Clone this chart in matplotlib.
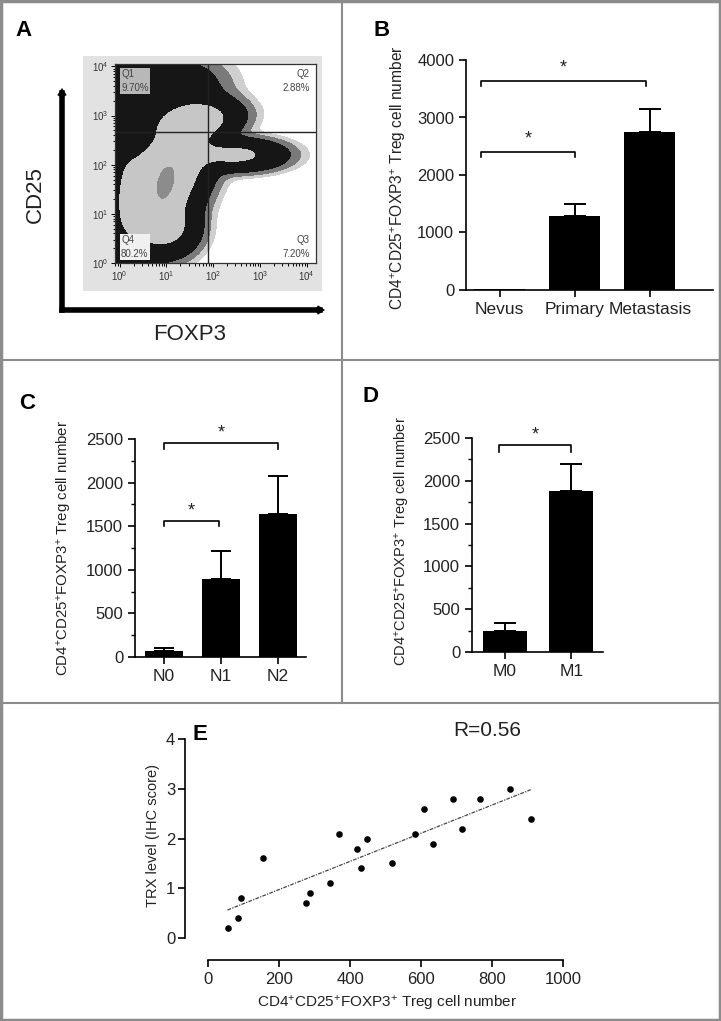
import numpy as np
import matplotlib
matplotlib.use("Agg")
import matplotlib.pyplot as plt
from matplotlib.lines import Line2D
from matplotlib.patches import Rectangle, FancyArrowPatch
from matplotlib.ticker import MultipleLocator, LogLocator, NullFormatter

plt.rcParams['font.family'] = ['Liberation Sans', 'DejaVu Sans']
plt.rcParams['mathtext.fontset'] = 'custom'
plt.rcParams['mathtext.rm'] = 'Liberation Sans'
plt.rcParams['mathtext.it'] = 'Liberation Sans:italic'
plt.rcParams['mathtext.bf'] = 'Liberation Sans:bold'

# ---- data ----
# panel B
b_groups = ["Nevus", "Primary", "Metastasis"]
b_means = [15, 1280, 2740]
b_errs = [0, 210, 410]

# panel C
c_groups = ["N0", "N1", "N2"]
c_means = [65, 895, 1645]
c_errs = [38, 320, 430]

# panel D
d_groups = ["M0", "M1"]
d_means = [240, 1875]
d_errs = [100, 325]

# panel E
e_treg = [54, 83, 91, 155, 274, 286, 343, 368, 420, 429, 446, 519,
          582, 608, 632, 689, 715, 765, 850, 909]
e_trx = [0.2, 0.4, 0.8, 1.6, 0.7, 0.9, 1.1, 2.1, 1.8, 1.4, 2.0, 1.5,
         2.1, 2.6, 1.9, 2.8, 2.2, 2.8, 3.0, 2.4]
e_r = 0.56

# panel A: flow populations (log10 centres, spreads, correlation, weight)
pop_x = [0.95, 1.0, 1.6, 2.5, 0.05, 1.05, 1.0]
pop_y = [1.7, 1.6, 2.9, 2.2, 2.4, 0.7, 3.7]
pop_sx = [0.55, 0.18, 0.5, 0.55, 0.3, 0.35, 0.6]
pop_sy = [0.75, 0.35, 0.22, 0.17, 1.1, 0.3, 0.3]
pop_rho = [0.55, 0.3, 0.2, 0.0, 0.0, 0.0, 0.0]
pop_w = [1.0, 0.5, 0.6, 0.45, 0.25, 0.4, 0.15]
quad_x = 76
quad_y = 470
quad_labels = [("Q1", "9.70%"), ("Q2", "2.88%"), ("Q3", "7.20%"), ("Q4", "80.2%")]

W, H = 721, 1021
fig = plt.figure(figsize=(W / 100, H / 100), dpi=100)
ylab = r'CD4$^{+}$CD25$^{+}$FOXP3$^{+}$ Treg cell number'
txtc = '#222222'


def px_axes(l, t, r, b):
    return fig.add_axes([l / W, 1 - b / H, (r - l) / W, (b - t) / H])


def fx(x):
    return x / W


def fy(y):
    return 1 - y / H


def style_bar_axes(ax, names, size):
    for s in ['top', 'right']:
        ax.spines[s].set_visible(False)
    for s in ['left', 'bottom']:
        ax.spines[s].set_linewidth(1.2)
    ax.set_xticks(range(len(names)))
    ax.set_xticklabels(names, fontsize=size, color=txtc)
    ax.tick_params(axis='both', direction='out', length=5, width=1.2)
    ax.tick_params(axis='y', labelsize=12, labelcolor=txtc)
    ax.tick_params(axis='y', which='minor', length=3, width=1.0)


def bars(ax, means, errs, width, cap):
    x = np.arange(len(means))
    ax.bar(x, means, width=width, color='black', zorder=2)
    for xi, m, e in zip(x, means, errs):
        if e > 0:
            ax.errorbar(xi, m, yerr=[[0], [e]], fmt='none', ecolor='black',
                        elinewidth=1.4, capsize=cap, capthick=1.4, zorder=1)


def bracket(ax, x0, x1, y, drop, star_y):
    ax.plot([x0, x0, x1, x1], [y - drop, y, y, y - drop], color='black',
            lw=1.2, clip_on=False)
    ax.text((x0 + x1) / 2, star_y, '*', ha='center', va='center',
            fontsize=13, color=txtc, clip_on=False)


# ---- panel A ----
fig.add_artist(Rectangle((fx(83), fy(291)), fx(322 - 83), (291 - 56) / H,
                         transform=fig.transFigure, facecolor='#e2e2e2',
                         edgecolor='none', zorder=0))
axA = px_axes(115, 64, 316, 263)
lx = np.linspace(-0.1, 4.2, 400)
ly = np.linspace(0.0, 4.05, 400)
X, Y = np.meshgrid(lx, ly)
D = np.zeros_like(X)
for mx, my, sx, sy, r, w in zip(pop_x, pop_y, pop_sx, pop_sy, pop_rho, pop_w):
    u = (X - mx) / sx
    v = (Y - my) / sy
    D += w * np.exp(-(u * u - 2 * r * u * v + v * v) / (2 * (1 - r * r)))
axA.set_facecolor('white')
axA.contourf(10 ** X, 10 ** Y, D, levels=[0.008, 0.02, 0.05, 0.35, 1.25, 10],
             colors=['#cfcfcf', '#7a7a7a', '#161616', '#c6c6c6', '#8c8c8c'])
axA.set_xscale('log')
axA.set_yscale('log')
axA.set_xlim(10 ** -0.1, 10 ** 4.2)
axA.set_ylim(10 ** 0, 10 ** 4.05)
axA.axvline(quad_x, color='#222222', lw=1.0)
axA.axhline(quad_y, color='#222222', lw=1.0)
for s in axA.spines.values():
    s.set_linewidth(0.9)
    s.set_color('#333333')
for a in (axA.xaxis, axA.yaxis):
    a.set_major_locator(LogLocator(base=10, numticks=10))
    a.set_minor_locator(LogLocator(base=10, subs=np.arange(2, 10), numticks=10))
    a.set_minor_formatter(NullFormatter())
axA.tick_params(which='both', direction='out', labelsize=7, labelcolor='#333333',
                width=0.7, pad=1.5)
axA.tick_params(which='major', length=3)
axA.tick_params(which='minor', length=1.8)
qkw = dict(fontsize=7, color='#444444', transform=axA.transAxes, linespacing=1.5)
axA.text(0.03, 0.975, quad_labels[0][0] + "\n" + quad_labels[0][1], ha='left', va='top',
         bbox=dict(facecolor='#b8b8b8', edgecolor='none', pad=1.0), **qkw)
axA.text(0.97, 0.975, quad_labels[1][0] + "\n" + quad_labels[1][1], ha='right', va='top',
         bbox=dict(facecolor='white', edgecolor='none', pad=1.0), **qkw)
axA.text(0.97, 0.02, quad_labels[2][0] + "\n" + quad_labels[2][1], ha='right', va='bottom',
         bbox=dict(facecolor='white', edgecolor='none', pad=1.0), **qkw)
axA.text(0.03, 0.02, quad_labels[3][0] + "\n" + quad_labels[3][1], ha='left', va='bottom',
         bbox=dict(facecolor='#f0f0f0', edgecolor='none', pad=1.0), **qkw)

# big arrows
corner = (fx(62), fy(310))
for tip in [(fx(62), fy(88)), (fx(325), fy(310))]:
    fig.add_artist(FancyArrowPatch(corner, tip, transform=fig.transFigure,
                                   arrowstyle='->,head_length=0.9,head_width=0.6',
                                   lw=4, color='black', shrinkA=0, shrinkB=0,
                                   capstyle='projecting', joinstyle='miter'))
fig.text(fx(35), fy(195), 'CD25', rotation=90, ha='center', va='center',
         fontsize=16, color=txtc)
fig.text(fx(190), fy(334), 'FOXP3', ha='center', va='center', fontsize=16, color=txtc)

# ---- panel B ----
axB = px_axes(466, 60, 713, 290)
bars(axB, b_means, b_errs, 0.68, 8)
axB.set_xlim(-0.45, 2.84)
axB.set_ylim(0, 4000)
axB.set_yticks([0, 1000, 2000, 3000, 4000])
style_bar_axes(axB, b_groups, 12.5)
bracket(axB, -0.25, 1.0, 2400, 90, 2620)
bracket(axB, -0.25, 1.95, 3635, 90, 3860)
fig.text(fx(398), fy(178), ylab, rotation=90, ha='center', va='center',
         fontsize=11.2, color=txtc)

# ---- panel C ----
axC = px_axes(135, 439, 306, 657)
bars(axC, c_means, c_errs, 0.67, 7)
axC.set_xlim(-0.51, 2.49)
axC.set_ylim(0, 2500)
axC.yaxis.set_major_locator(MultipleLocator(500))
axC.yaxis.set_minor_locator(MultipleLocator(250))
style_bar_axes(axC, c_groups, 12.5)
bracket(axC, 0.0, 0.97, 1562, 62, 1680)
bracket(axC, 0.0, 2.0, 2450, 65, 2570)
fig.text(fx(65), fy(548), ylab, rotation=90, ha='center', va='center',
         fontsize=10.8, color=txtc)

# ---- panel D ----
axD = px_axes(472, 438, 603, 652)
bars(axD, d_means, d_errs, 0.67, 8)
axD.set_xlim(-0.5, 1.48)
axD.set_ylim(0, 2500)
axD.yaxis.set_major_locator(MultipleLocator(500))
axD.yaxis.set_minor_locator(MultipleLocator(250))
style_bar_axes(axD, d_groups, 12.5)
bracket(axD, -0.09, 1.0, 2414, 78, 2540)
fig.text(fx(403), fy(541), ylab, rotation=90, ha='center', va='center',
         fontsize=10.5, color=txtc)

# ---- panel E ----
axE = px_axes(185, 739, 563, 960)
axE.scatter(e_treg, e_trx, s=14, color='black', zorder=3)
k, c0 = np.polyfit(e_treg, e_trx, 1)
xf = np.array([min(e_treg), max(e_treg)])
axE.plot(xf, k * xf + c0, color='#444444', lw=0.9, ls=(0, (3, 1, 1, 1)))
axE.set_xlim(-66, 1000)
axE.set_ylim(-0.44, 4)
for s in ['top', 'right']:
    axE.spines[s].set_visible(False)
axE.spines['left'].set_bounds(0, 4)
axE.spines['bottom'].set_bounds(0, 1000)
for s in ['left', 'bottom']:
    axE.spines[s].set_linewidth(1.2)
axE.set_yticks([0, 1, 2, 3, 4])
axE.set_xticks([0, 200, 400, 600, 800, 1000])
axE.tick_params(direction='out', length=5, width=1.2, labelsize=12, labelcolor=txtc)
axE.tick_params(axis='y', pad=2)
axE.text(785, 3.98, 'R=%.2f' % e_r, fontsize=15, ha='center', va='bottom', color=txtc)
fig.text(fx(153), fy(835), 'TRX level (IHC score)', rotation=90, ha='center',
         va='center', fontsize=10.5, color=txtc)
fig.text(fx(387), fy(1003), ylab, ha='center', va='center', fontsize=11, color=txtc)

# ---- panel letters ----
for lab, x, y in [('A', 23, 30), ('B', 382, 30), ('C', 27, 403), ('D', 370, 397), ('E', 200, 735)]:
    fig.text(fx(x), fy(y), lab, ha='center', va='center', fontsize=16,
             fontweight='bold', color='black')

# ---- panel borders ----
bc = '#8c8c8c'
for xs, ys in [([342, 342], [0, 703]), ([0, W], [360, 360]), ([0, W], [703, 703])]:
    fig.add_artist(Line2D([fx(v) for v in xs], [fy(v) for v in ys],
                          transform=fig.transFigure, color=bc, lw=1.5))
fig.add_artist(Rectangle((0.001, 0.001), 0.998, 0.998, transform=fig.transFigure,
                         facecolor='none', edgecolor=bc, lw=2.5))

fig.savefig('out.png', dpi=100)
